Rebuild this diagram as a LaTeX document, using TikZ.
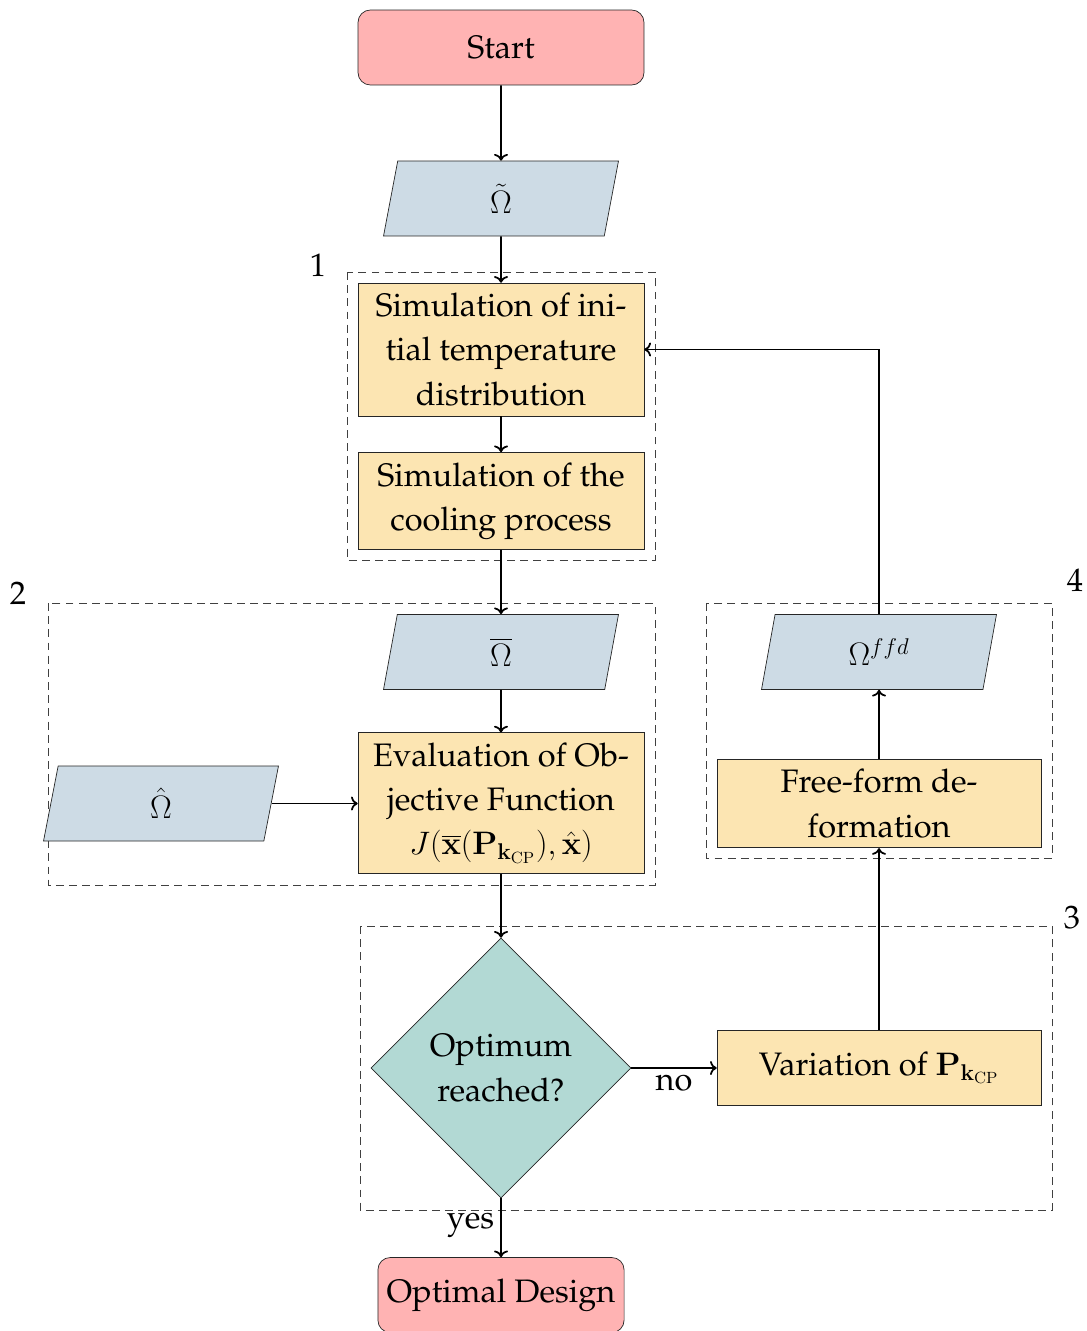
\RequirePackage{fix-cm}
\documentclass[tikz,border=0pt]{standalone}
\usepackage[T1]{fontenc}
\renewcommand{\rmdefault}{ppl}
\usepackage{amsmath}
\usetikzlibrary{shapes.geometric, arrows.meta}

\definecolor{startred}{RGB}{255,179,179}
\definecolor{procyellow}{RGB}{252,229,178}
\definecolor{ioblue}{RGB}{205,219,229}
\definecolor{decteal}{RGB}{178,217,212}

\tikzset{
  terminal/.style={rectangle, rounded corners=7pt, draw=black!85, fill=startred,
    minimum height=1.5cm, inner sep=5pt},
  process/.style={rectangle, draw=black!85, fill=procyellow, align=center,
    minimum width=5.72cm, minimum height=1.5cm, inner xsep=5pt, inner ysep=5.7pt},
  io/.style={trapezium, trapezium left angle=71, trapezium right angle=109,
    trapezium stretches body, draw=black!85, fill=ioblue,
    minimum width=4.7cm, minimum height=1.5cm},
  decision/.style={diamond, draw=black!85, fill=decteal, align=center,
    minimum width=5.2cm, minimum height=5.2cm, inner sep=0pt},
  groupbox/.style={draw=black!75, dash pattern=on 4.5pt off 3pt, line width=0.55pt},
  flow/.style={->, line width=1pt},
}

\begin{document}
\begin{tikzpicture}[x=0.02cm, y=-0.02cm, font=\fontsize{18.5}{25.2}\selectfont]
\useasboundingbox (0,0) rectangle (1087,1331);

% groups
\draw[groupbox] (347,272) rectangle (655,560);
\draw[groupbox] (48,603) rectangle (655,885);
\draw[groupbox] (360,926) rectangle (1052,1210);
\draw[groupbox] (706,603) rectangle (1052,858);
\node (lbl1) at (318,265) {1};
\node (lbl2) at (18,593) {2};
\node (lbl3) at (1072,918) {3};
\node (lbl4) at (1075,580) {4};

% main column
\node[terminal, minimum width=5.72cm] (start) at (501,47.5) {Start};
\node[io] (omtilde) at (501,198.5) {$\tilde{\Omega}$};
\node[process] (siminit) at (501,349.5) {Simulation of ini-\\tial temperature\\distribution};
\node[process] (simcool) at (501,501) {Simulation of the\\cooling process};
\node[io] (ombar) at (501,652) {$\overline{\Omega}$};
\node[process] (objfun) at (501,803) {Evaluation of Ob-\\jective Function\\$J(\overline{\mathbf{x}}(\mathbf{P}_{\mathbf{k}_{\mathrm{CP}}}),\hat{\mathbf{x}})$};
\node[io] (omhat) at (161,803.5) {$\hat{\Omega}$};
\node[decision] (optq) at (501,1068) {Optimum\\reached?};
\node[terminal] (optdes) at (501,1295) {Optimal Design};

% right column
\node[process, minimum width=6.48cm] (varpk) at (879,1068) {Variation of $\mathbf{P}_{\mathbf{k}_{\mathrm{CP}}}$};
\node[process, minimum width=6.48cm] (ffdbox) at (879,803.5) {Free-form de-\\formation};
\node[io] (omffd) at (879,652) {$\Omega^{ffd}$};

% connectors
\draw[flow] (start) -- (omtilde);
\draw[flow] (omtilde) -- (siminit);
\draw[flow] (siminit) -- (simcool);
\draw[flow] (simcool) -- (ombar);
\draw[flow] (ombar) -- (objfun);
\draw[flow] (omhat.east) -- (omhat.east -| objfun.west);
\draw[flow] (objfun) -- (optq);
\draw[flow] (optq) -- node[below] {no} (varpk);
\draw[flow] (varpk) -- (ffdbox);
\draw[flow] (ffdbox) -- (omffd);
\draw[flow] (omffd.north) |- (siminit.east);
\draw[flow] (optq) -- node[left, pos=0.45] {yes} (optdes);
\end{tikzpicture}
\end{document}
